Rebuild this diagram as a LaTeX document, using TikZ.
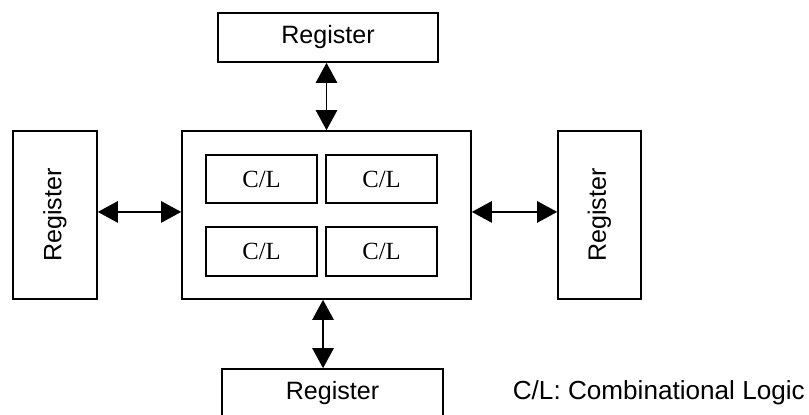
\documentclass[tikz,border=0pt]{standalone}
\usepackage{fontspec}
\setmainfont{Liberation Serif}
\newfontfamily\regfont{Liberation Sans}
\usetikzlibrary{arrows.meta,calc}

\begin{document}
\begin{tikzpicture}[x=0.75pt, y=-0.75pt, line width=1.25pt,
    every node/.style={font=\regfont\fontsize{18.8}{22}\selectfont},
    reg/.style={draw, rectangle, inner sep=0pt},
    cl/.style={draw, rectangle, inner sep=0pt, minimum width=83.25pt, minimum height=36.4pt,
               font=\rmfamily\fontsize{18.5}{22}\selectfont},
    link/.style={{Triangle[width=16pt,length=15pt]}-{Triangle[width=16pt,length=15pt]}}]
  \useasboundingbox (0,0) rectangle (809,414);

  % registers round the core
  \node[reg, minimum width=165pt, minimum height=36.75pt] (regT) at (328,37.5) {Register};
  \node[reg, minimum width=165.75pt, minimum height=36.75pt] (regB) at (332.5,393.5) {Register};
  \node[reg, minimum width=63pt, minimum height=126pt] (regL) at (55,215) {\rotatebox{90}{Register}};
  \node[reg, minimum width=62.25pt, minimum height=126pt] (regR) at (599.5,215) {\rotatebox{90}{Register}};

  % core with four C/L blocks
  \node[reg, minimum width=216.75pt, minimum height=126pt] (core) at (326.5,215) {};
  \foreach \c/\x/\y in {a/261.5/179, b/381.5/179, c/261.5/251.5, d/381.5/251.5}{
    \node[cl] (cl\c) at (\x,\y) {C/L};
  }

  % links
  \draw[link] (core.north) -- (core.north |- regT.south);
  \draw[link] ([xshift=-2.6pt]core.south) -- ([xshift=-2.6pt]core.south |- regB.north);
  \draw[link] ([yshift=2.3pt]regL.east) -- ([yshift=2.3pt]core.west);
  \draw[link] ([yshift=2.3pt]core.east) -- ([yshift=2.3pt]regR.west);

  \node[anchor=west, inner sep=0pt, font=\regfont\fontsize{19.6}{22}\selectfont] (key) at (512,393) {C/L: Combinational Logic};
\end{tikzpicture}
\end{document}
